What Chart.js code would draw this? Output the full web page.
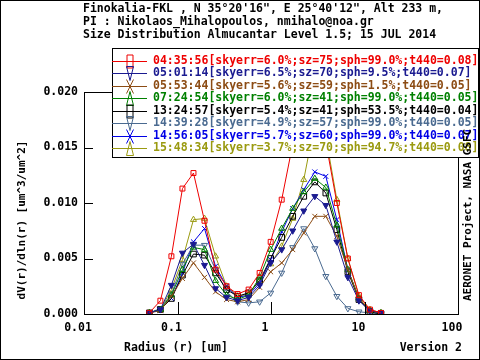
<!DOCTYPE html>
<html>
<head>
<meta charset="utf-8">
<script src="https://cdn.jsdelivr.net/npm/chart.js@4.4.1/dist/chart.umd.min.js"></script>
<style>
  html,body{margin:0;padding:0;background:#fff}
  #wrap{width:480px;height:360px}
</style>
</head>
<body>
<div id="wrap"><canvas id="sd" width="480" height="360"></canvas></div>
<script>
// ====== AERONET size distribution · Finokalia-FKL 15 JUL 2014 ======

// ---------- Data ----------
const RADIUS  = [0.05, 0.065604, 0.086077, 0.112939, 0.148184, 0.194429, 0.255105, 0.334716, 0.439173, 0.576227, 0.756052,
                 0.991996, 1.301571, 1.707757, 2.240702, 2.939966, 3.857452, 5.061260, 6.640745, 8.713145, 11.432287, 15.0];
const X_TICKS = [0.01, 0.1, 1, 10, 100];
const Y_TICKS = [0, 0.005, 0.010, 0.015, 0.020];

const TITLE_LINES = [
  'Finokalia-FKL , N 35°20\'16", E 25°40\'12", Alt 233 m,',
  'PI : Nikolaos_Mihalopoulos, nmihalo@noa.gr',
  'Size Distribution Almucantar Level 1.5; 15 JUL 2014'
];
const LEGEND_TXT = [
  '04:35:56[skyerr=6.0%;sz=75;sph=99.0%;t440=0.08]',
  '05:01:14[skyerr=6.5%;sz=70;sph=9.5%;t440=0.07]',
  '05:53:44[skyerr=5.6%;sz=59;sph=1.5%;t440=0.05]',
  '07:24:54[skyerr=6.0%;sz=41;sph=99.0%;t440=0.05]',
  '13:24:57[skyerr=5.4%;sz=41;sph=53.5%;t440=0.04]',
  '14:39:28[skyerr=4.9%;sz=57;sph=99.0%;t440=0.05]',
  '14:56:05[skyerr=5.7%;sz=60;sph=99.0%;t440=0.07]',
  '15:48:34[skyerr=3.7%;sz=70;sph=94.7%;t440=0.08]'
];

const V_043556 = [0.0001,0.0012,0.0052,0.0113,0.0127,0.0084,0.0040,0.0025,0.0018,0.0022,0.0037,0.0065,0.0103,0.0153,0.0192,0.0200,0.0155,0.0100,0.0050,0.0017,0.0004,0.0001];
const V_050114 = [0.0001,0.0004,0.0026,0.0055,0.0063,0.0044,0.0023,0.0015,0.0012,0.0015,0.0026,0.0046,0.0058,0.0075,0.0093,0.0106,0.0098,0.0065,0.0033,0.0012,0.0003,0.0001];
const V_055344 = [0.0001,0.0003,0.0016,0.0032,0.0046,0.0033,0.0020,0.0013,0.0011,0.0013,0.0024,0.0038,0.0046,0.0058,0.0073,0.0088,0.0088,0.0070,0.0040,0.0014,0.0003,0.0001];
const V_072454 = [0.0001,0.0004,0.0017,0.0040,0.0060,0.0058,0.0030,0.0017,0.0013,0.0017,0.0033,0.0058,0.0077,0.0095,0.0110,0.0122,0.0114,0.0080,0.0040,0.0014,0.0003,0.0001];
const V_132457 = [0.0001,0.0004,0.0014,0.0035,0.0054,0.0053,0.0037,0.0022,0.0016,0.0019,0.0030,0.0050,0.0069,0.0088,0.0106,0.0119,0.0109,0.0076,0.0038,0.0013,0.0002,0.0000];
const V_143928 = [0.0001,0.0005,0.0018,0.0045,0.0062,0.0062,0.0040,0.0020,0.0011,0.0010,0.0011,0.0019,0.0037,0.0060,0.0077,0.0059,0.0034,0.0016,0.0005,0.0002,0.0001,0.0000];
const V_145605 = [0.0001,0.0004,0.0014,0.0037,0.0065,0.0077,0.0043,0.0025,0.0015,0.0017,0.0028,0.0049,0.0074,0.0095,0.0112,0.0128,0.0124,0.0085,0.0040,0.0014,0.0003,0.0001];
const V_154834 = [0.0001,0.0004,0.0022,0.0049,0.0085,0.0086,0.0052,0.0025,0.0016,0.0018,0.0030,0.0045,0.0061,0.0086,0.0121,0.0172,0.0160,0.0103,0.0050,0.0016,0.0004,0.0001];

const SERIES_VALUES = [V_043556, V_050114, V_055344, V_072454, V_132457, V_143928, V_145605, V_154834];

// ---------- Styles ----------
const COLORS  = ['#ee0000', '#1a1a90', '#8c4c14', '#008000', '#000000', '#4a6a90', '#0000e6', '#9a9a10'];
const MARKERS = ['rect', 'triDown', 'cross', 'triUp', 'rect', 'triDown', 'cross', 'triUp'];
const FONT_FAMILY = '"DejaVu Sans Mono", "Liberation Mono", monospace';
const FONT = {family: FONT_FAMILY, weight: 'bold', size: 11.5};

function pointStyleOf(m){
  if(m === 'rect') return {style:'rect', rot:0};
  if(m === 'triDown') return {style:'triangle', rot:180};
  if(m === 'triUp') return {style:'triangle', rot:0};
  return {style:'crossRot', rot:0};
}

// ---------- Legend marker (tall symbols as in the original) ----------
function legendMarker(ctx, m, x, y, color){
  const w = 3.5, h = 7;
  ctx.strokeStyle = color; ctx.lineWidth = 1;
  ctx.beginPath();
  if(m === 'rect'){ ctx.rect(x - w + 0.5, y - h + 0.5, 2*w - 1, 2*h - 1); }
  else if(m === 'triDown'){ ctx.moveTo(x - w, y - h); ctx.lineTo(x + w, y - h); ctx.lineTo(x, y + h); ctx.closePath(); }
  else if(m === 'triUp'){ ctx.moveTo(x - w, y + h); ctx.lineTo(x + w, y + h); ctx.lineTo(x, y - h); ctx.closePath(); }
  else { ctx.moveTo(x - w, y - h); ctx.lineTo(x + w, y + h); ctx.moveTo(x + w, y - h); ctx.lineTo(x - w, y + h); }
  ctx.stroke();
}

// ---------- Plugin: frame, inward ticks, legend box and text ----------
const decor = {
  id: 'decor',
  afterDatasetsDraw(chart){
    const {ctx, chartArea:a, scales:{x, y}} = chart;
    ctx.save();
    ctx.strokeStyle = '#000'; ctx.lineWidth = 1;
    ctx.strokeRect(Math.round(a.left) + 0.5, Math.round(a.top) + 0.5, Math.round(a.right - a.left), Math.round(a.bottom - a.top));
    ctx.beginPath();
    X_TICKS.slice(1, -1).forEach(v => {
      const px = Math.round(x.getPixelForValue(v)) + 0.5;
      ctx.moveTo(px, a.bottom); ctx.lineTo(px, a.bottom - 12);
      ctx.moveTo(px, a.top); ctx.lineTo(px, a.top + 12);
    });
    Y_TICKS.forEach(v => {
      const py = Math.round(y.getPixelForValue(v)) + 0.5;
      ctx.moveTo(a.left, py); ctx.lineTo(a.left + 9, py);
    });
    ctx.stroke();
    ctx.restore();
  },
  afterDraw(chart){
    const ctx = chart.ctx;
    ctx.save();
    ctx.font = `bold 11.5px ${FONT_FAMILY}`;
    ctx.textBaseline = 'middle';

    // titulo
    ctx.fillStyle = '#000'; ctx.textAlign = 'left';
    TITLE_LINES.forEach((t, i) => ctx.fillText(t, 83, 9 + i*13));

    // leyenda
    const top = 48, bottom = 157, left = 112, right = 478;
    ctx.fillStyle = '#fff';
    ctx.fillRect(left, top, right - left, bottom - top);
    ctx.strokeStyle = '#000'; ctx.lineWidth = 1;
    ctx.strokeRect(left + 0.5, top + 0.5, right - left, bottom - top);
    LEGEND_TXT.forEach((t, i) => {
      const ry = Math.round(61 + i*12.45) + 0.5;
      ctx.strokeStyle = COLORS[i];
      ctx.beginPath(); ctx.moveTo(left, ry); ctx.lineTo(147, ry); ctx.stroke();
      legendMarker(ctx, MARKERS[i], 130, ry, COLORS[i]);
      ctx.fillStyle = COLORS[i];
      ctx.fillText(t, 153, ry);
    });

    // titulos de ejes
    ctx.fillStyle = '#000';
    ctx.textAlign = 'center';
    ctx.fillText('Radius (r) [um]', 176, 348);
    ctx.textAlign = 'right';
    ctx.fillText('Version 2', 462, 348);

    ctx.font = `bold 11px ${FONT_FAMILY}`;
    ctx.save();
    ctx.translate(22, 220); ctx.rotate(-Math.PI/2);
    ctx.textAlign = 'center';
    ctx.fillText('dV(r)/dln(r) [um^3/um^2]', 0, 0);
    ctx.restore();

    ctx.save();
    ctx.translate(468, 301); ctx.rotate(-Math.PI/2);
    ctx.textAlign = 'left';
    ctx.fillText('AERONET Project, NASA GSFC', 0, 0);
    ctx.restore();

    // marco exterior
    ctx.strokeStyle = '#000';
    ctx.strokeRect(0.5, 0.5, 479, 359);
    ctx.restore();
  }
};

// ---------- Chart ----------
const datasets = SERIES_VALUES.map((vals, i) => {
  const ps = pointStyleOf(MARKERS[i]);
  return {
    label: LEGEND_TXT[i],
    data: RADIUS.map((r, k) => ({x: r, y: vals[k]})),
    borderColor: COLORS[i], borderWidth: 1,
    pointStyle: ps.style, pointRotation: ps.rot,
    pointRadius: MARKERS[i] === 'rect' ? (i === 4 ? 4 : 3.5) : 3.5,
    pointBorderColor: COLORS[i],
    pointBackgroundColor: i === 1 ? COLORS[i] : 'rgba(0,0,0,0)',
    pointBorderWidth: 1,
    tension: 0
  };
});

new Chart(document.getElementById('sd'), {
  type: 'line',
  data: {datasets},
  options: {
    responsive: false, animation: false, devicePixelRatio: 1,
    layout: {padding: {left: 0, top: 92, right: 22, bottom: 0}},
    plugins: {legend: {display: false}, tooltip: {enabled: false}},
    scales: {
      x: {
        type: 'logarithmic', min: 0.01, max: 100,
        afterBuildTicks: s => { s.ticks = X_TICKS.map(v => ({value: v})); },
        afterFit: s => { s.height = 46; },
        grid: {display: false, drawTicks: false}, border: {display: false},
        ticks: {color: '#000', font: FONT, padding: 7, labelOffset: -6, maxRotation: 0, autoSkip: false,
                callback: v => String(v)}
      },
      y: {
        min: 0, max: 0.02,
        afterBuildTicks: s => { s.ticks = Y_TICKS.map(v => ({value: v})); },
        afterFit: s => { s.width = 84; },
        grid: {display: false, drawTicks: false}, border: {display: false},
        ticks: {color: '#000', font: FONT, padding: 6, callback: v => v.toFixed(3)}
      }
    }
  },
  plugins: [decor]
});
</script>
</body>
</html>
